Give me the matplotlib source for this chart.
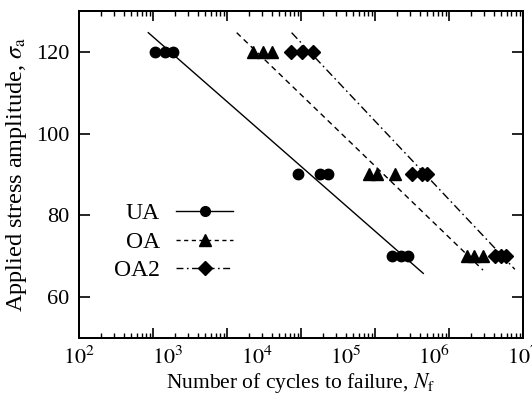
import numpy as np
import matplotlib
matplotlib.use("Agg")
import matplotlib.pyplot as plt
from matplotlib.ticker import FixedLocator, NullLocator, NullFormatter

plt.rcParams['font.family'] = ['Liberation Serif', 'DejaVu Serif']
plt.rcParams['mathtext.fontset'] = 'stix'

# --- data ---
stress_levels = [120, 120, 120, 90, 90, 90, 70, 70, 70]
ua_cycles = [718, 929, 1153, 29500, 51800, 64100, 332000, 420000, 511000]
oa_cycles = [9180, 11900, 14800, 186000, 229000, 362000, 2.32e6, 2.83e6, 3.57e6]
oa2_cycles = [24200, 32200, 42900, 558000, 723000, 824000, 4.84e6, 5.61e6, 6.44e6]

# fitted lines: endpoints (cycles, stress)
ua_fit_N = [603, 7.54e5]
ua_fit_S = [124.7, 65.8]
oa_fit_N = [5970, 3.55e6]
oa_fit_S = [124.7, 66.6]
oa2_fit_N = [24800, 8.1e6]
oa2_fit_S = [124.7, 66.8]

labels = ["UA", "OA", "OA2"]
y_ticks = [60, 80, 100, 120]
x_ticks = [1e2, 1e3, 1e4, 1e5, 1e6, 1e7]
x_ticklabels = [r"$10^{2}$", r"$10^{3}$", r"$10^{4}$", r"$10^{5}$", r"$10^{6}$", r"$10^{7}$"]

fig = plt.figure(figsize=(5.32, 3.99), dpi=100)
ax = fig.add_axes([0.1485, 0.153, 0.8345, 0.8194])

lw = 1.0
ax.plot(ua_fit_N, ua_fit_S, '-', color='black', lw=lw)
ax.plot(oa_fit_N, oa_fit_S, '--', color='black', lw=lw, dashes=(4, 3))
ax.plot(oa2_fit_N, oa2_fit_S, '-.', color='black', lw=lw, dashes=(6, 2.5, 1.2, 2.5))

ax.plot(ua_cycles, stress_levels, 'o', color='black', ms=7.5, ls='none')
ax.plot(oa_cycles, stress_levels, '^', color='black', ms=8.5, ls='none')
ax.plot(oa2_cycles, stress_levels, 'D', color='black', ms=7.5, ls='none')

# legend handles
h1, = ax.plot([], [], '-o', color='black', ms=7, lw=lw)
h2, = ax.plot([], [], '--^', color='black', ms=8, lw=lw, dashes=(3, 2.5))
h3, = ax.plot([], [], '-.D', color='black', ms=7, lw=lw, dashes=(5, 2.5, 1.2, 2.5))
ax.legend([h1, h2, h3], labels, loc='center right',
          bbox_to_anchor=(233 / 532, 1 - 242 / 399), bbox_transform=fig.transFigure,
          frameon=False, markerfirst=False, handlelength=2.4, fontsize=17,
          labelspacing=0.3, handletextpad=0.7, borderpad=0, borderaxespad=0)

ax.set_xscale('log')
ax.set_xlim(1e2, 1e7)
ax.set_ylim(50, 130)
ax.yaxis.set_major_locator(FixedLocator(y_ticks))
ax.set_xticks(x_ticks)
ax.set_xticklabels(x_ticklabels)
ax.xaxis.set_minor_locator(NullLocator())

for s in ax.spines.values():
    s.set_linewidth(1.4)
ax.tick_params(axis='y', which='major', direction='in', left=True, right=True,
               length=8, width=1.2, labelsize=16, pad=7)
ax.tick_params(axis='x', which='major', length=0, labelsize=16, pad=6)

# x tick marks as drawn in the reference: six log-style groups across the axis
ax2 = ax.twiny()
ax2.set_xscale('log')
ax2.set_xlim(1e2, 1e7)
ax2.set_ylim(50, 130)
grp = 5.0 / 6.0
maj_pos = [10 ** (2 + grp * k) for k in range(7)]
min_pos = [10 ** (2 + grp * (k + np.log10(m))) for k in range(6) for m in range(2, 10)]
ax2.xaxis.set_major_locator(FixedLocator(maj_pos))
ax2.xaxis.set_minor_locator(FixedLocator(min_pos))
ax2.xaxis.set_major_formatter(NullFormatter())
ax2.xaxis.set_minor_formatter(NullFormatter())
ax2.tick_params(axis='x', which='major', direction='in', top=True, bottom=True,
                labeltop=False, labelbottom=False, length=7, width=1.2)
ax2.tick_params(axis='x', which='minor', direction='in', top=True, bottom=True,
                labeltop=False, labelbottom=False, length=3.5, width=1.0)
for s in ax2.spines.values():
    s.set_linewidth(1.4)

ax.set_xlabel(r"Number of cycles to failure, $N_{\rm f}$", fontsize=15.5, labelpad=1)
ax.set_ylabel(r"Applied stress amplitude, $\sigma_{\rm a}$", fontsize=17.5, labelpad=5)

fig.savefig("out.png", dpi=100)
